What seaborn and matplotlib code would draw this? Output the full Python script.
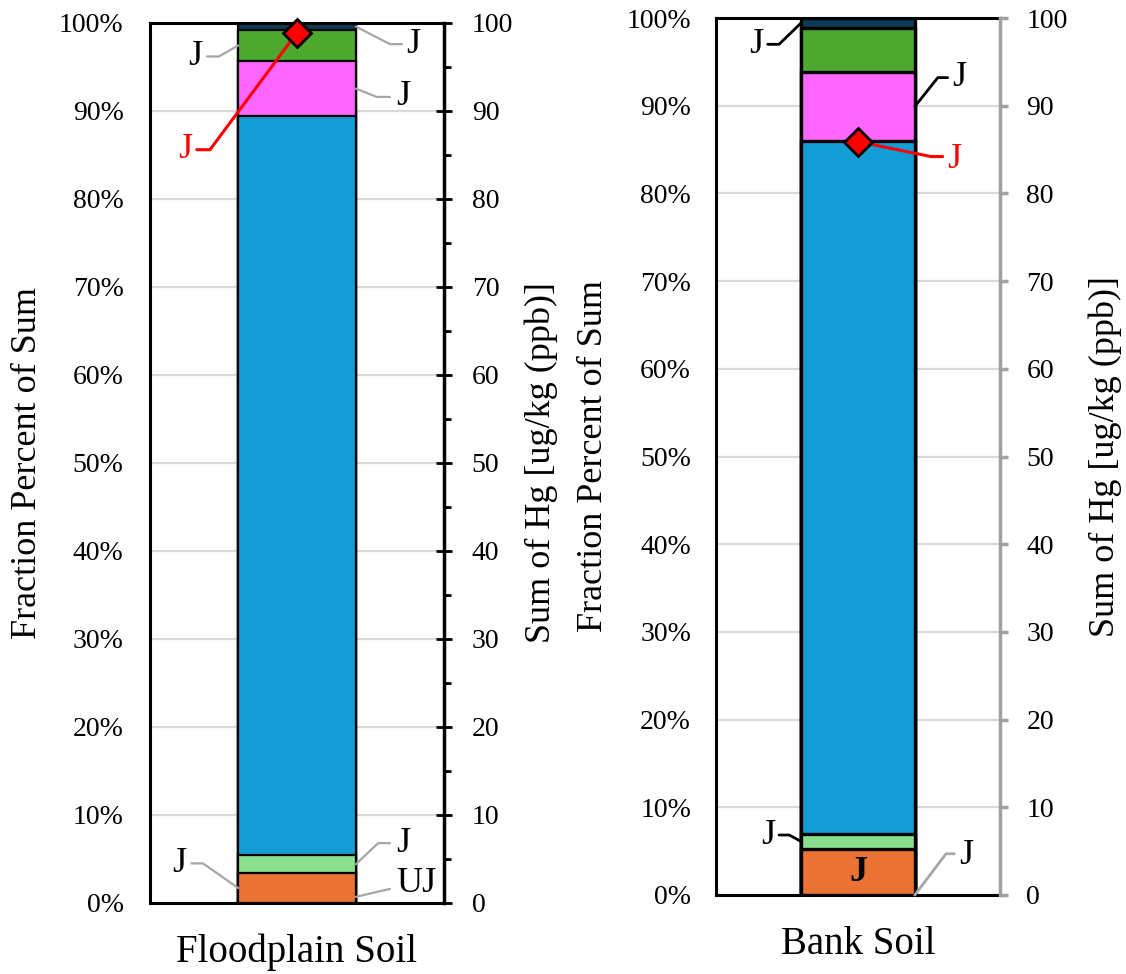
import numpy as np
import matplotlib
matplotlib.use("Agg")
import matplotlib.pyplot as plt
import seaborn as sns
from matplotlib.ticker import FuncFormatter, MultipleLocator

# Data -------------------------------------------------------------
soils = ["Floodplain Soil", "Bank Soil"]
seg_colors = ["#EA7232", "#88E08E", "#139DD5", "#FF66FF", "#4EA72E", "#0E3A52"]
fp_pct = [3.4, 2.0, 84.0, 6.3, 3.5, 0.8]      # fraction percent of sum
bank_pct = [5.2, 1.8, 79.0, 7.8, 5.1, 1.1]
hg_sum = [98.9, 85.9]                          # sum of Hg, ug/kg
hg_flag = ["J", "J"]

# qualifier flags: (segment index, flag); index None -> bottom of bar
fp_flags = [(4, "J"), (5, "J"), (3, "J"), (0, "J"), (1, "J"), (None, "UJ")]
bank_flags = [(5, "J"), (3, "J"), (1, "J"), (0, "J"), (None, "J")]

# Style ------------------------------------------------------------
sns.set_theme(style="white")
plt.rcParams["font.family"] = ["Liberation Serif", "DejaVu Serif"]
plt.rcParams.update({"text.color": "black", "axes.labelcolor": "black",
                     "xtick.color": "black", "ytick.color": "black"})

GRAY_LINE = "#A6A6A6"
GRID = "#D9D9D9"
FS_TICK, FS_LAB, FS_CAT, FS_FLAG = 20, 26, 28, 26


def seg_mid(pct, i):
    cum = np.concatenate([[0], np.cumsum(pct)])
    return 0.0 if i is None else (cum[i] + cum[i + 1]) / 2


def leader(ax, pts, label, tx, ty, ha, color, tcolor="black", lw=1.6):
    xs, ys = zip(*pts)
    ax.plot(xs, ys, color=color, lw=lw, clip_on=False, zorder=4)
    ax.text(tx, ty, label, ha=ha, va="center", fontsize=FS_FLAG,
            color=tcolor, zorder=4)


def draw_panel(ax, soil, pct, edge_lw):
    cum = np.cumsum(pct)
    # overlapping cumulative bars -> stacked look
    for top, c in zip(cum[::-1], seg_colors[::-1]):
        sns.barplot(x=[soil], y=[top], color=c, width=0.4, saturation=1,
                    edgecolor="black", linewidth=edge_lw, ax=ax, zorder=2)
    ax.set_xlim(-0.5, 0.5)
    ax.set_ylim(0, 100)
    ax.set_yticks(np.arange(0, 101, 10))
    ax.yaxis.set_major_formatter(FuncFormatter(lambda v, p: f"{v:.0f}%"))
    ax.set_axisbelow(True)
    ax.yaxis.grid(True, color=GRID, lw=1.6)
    ax.tick_params(axis="y", length=0, labelsize=FS_TICK)
    ax.tick_params(axis="x", length=0, labelsize=FS_CAT, pad=22)
    ax.set_xlabel("")
    ax.set_ylabel("Fraction Percent of Sum", fontsize=FS_LAB, va="center")
    for s in ["left", "top", "bottom"]:
        ax.spines[s].set_color("black")
        ax.spines[s].set_linewidth(2.2)
    ax.spines["right"].set_visible(False)

    ax2 = ax.twinx()
    ax2.set_ylim(0, 100)
    ax2.set_yticks(np.arange(0, 101, 10))
    for s in ["left", "top", "bottom"]:
        ax2.spines[s].set_visible(False)
    ax2.set_ylabel("Sum of Hg [ug/kg (ppb)]", fontsize=FS_LAB, va="center")
    return ax2


fig = plt.figure(figsize=(11.26, 9.74), dpi=100)
axL = fig.add_axes([150 / 1126, 1 - 903 / 974, 294 / 1126, 880 / 974])
axR = fig.add_axes([716 / 1126, 1 - 895 / 974, 284 / 1126, 877 / 974])

# Floodplain soil ----------------------------------------------------
axL2 = draw_panel(axL, soils[0], fp_pct, 1.6)
axL.tick_params(axis="y", pad=19)
axL.yaxis.set_label_coords(-0.415, 0.5)
axL2.spines["right"].set_color("black")
axL2.spines["right"].set_linewidth(2.5)
axL2.yaxis.set_minor_locator(MultipleLocator(5))
axL2.tick_params(axis="y", which="major", direction="inout", length=12,
                 width=2, color="black", labelsize=FS_TICK, pad=14)
axL2.tick_params(axis="y", which="minor", direction="out", length=5,
                 width=2, color="black")
axL2.yaxis.set_label_coords(1.33, 0.5)

axL2.plot(0, hg_sum[0], marker="D", ms=14, mfc="red", mec="black", mew=2,
          zorder=6, clip_on=False)

fp_geom = [  # elbow, end, text pos, side
    ((-0.265, 96.2), (-0.306, 96.2), (-0.322, 96.2), "right"),
    ((0.316, 97.6), (0.357, 97.6), (0.372, 97.6), "left"),
    ((0.271, 91.6), (0.316, 91.6), (0.337, 91.6), "left"),
    ((-0.32, 4.5), (-0.359, 4.5), (-0.375, 4.5), "right"),
    ((0.276, 6.8), (0.316, 6.8), (0.337, 6.8), "left"),
    ((0.316, 1.6), (0.316, 1.6), (0.337, 2.2), "left"),
]
for (i, flag), (elb, end, tp, ha) in zip(fp_flags, fp_geom):
    y0 = 0.7 if i is None else seg_mid(fp_pct, i)
    x0 = -0.2 if ha == "right" else 0.2
    leader(axL2, [(x0, y0), elb, end], flag, tp[0], tp[1], ha, GRAY_LINE)
leader(axL2, [(0, hg_sum[0]), (-0.296, 85.6), (-0.341, 85.6)], hg_flag[0],
       -0.357, 85.6, "right", "red", tcolor="red", lw=2.2)

# Bank soil ---------------------------------------------------------
axR2 = draw_panel(axR, soils[1], bank_pct, 2.4)
axR.tick_params(axis="y", pad=18)
axR.yaxis.set_label_coords(-0.43, 0.5)
axR2.spines["right"].set_color("#A0A0A0")
axR2.spines["right"].set_linewidth(2.5)
axR2.tick_params(axis="y", which="major", direction="out", length=6,
                 width=2.5, color="#A0A0A0", labelcolor="black",
                 labelsize=FS_TICK, pad=13)
axR2.yaxis.set_label_coords(1.37, 0.5)

axR2.plot(0, hg_sum[1], marker="D", ms=14, mfc="red", mec="black", mew=2,
          zorder=6, clip_on=False)

bank_geom = [
    ((-0.278, 97.0), (-0.318, 97.0), (-0.335, 97.0), "right", "black"),
    ((0.281, 93.2), (0.316, 93.2), (0.333, 93.2), "left", "black"),
    ((-0.242, 6.84), (-0.278, 6.84), (-0.292, 6.84), "right", "black"),
    None,
    ((0.31, 4.7), (0.339, 4.7), (0.356, 4.5), "left", GRAY_LINE),
]
for (i, flag), g in zip(bank_flags, bank_geom):
    if g is None:
        # flag written inside the segment
        axR2.text(0, seg_mid(bank_pct, i), flag, ha="center", va="center",
                  fontsize=26, fontweight="bold", zorder=4)
        continue
    elb, end, tp, ha, lc = g
    y0 = seg_mid(bank_pct, i)
    x0 = -0.2 if ha == "right" else 0.2
    leader(axR2, [(x0, y0), elb, end], flag, tp[0], tp[1], ha, lc, lw=2.0)
leader(axR2, [(0, hg_sum[1]), (0.257, 84.2), (0.298, 84.2)], hg_flag[1],
       0.315, 83.9, "left", "red", tcolor="red", lw=2.2)

fig.savefig("out.png", dpi=100, facecolor="white")
